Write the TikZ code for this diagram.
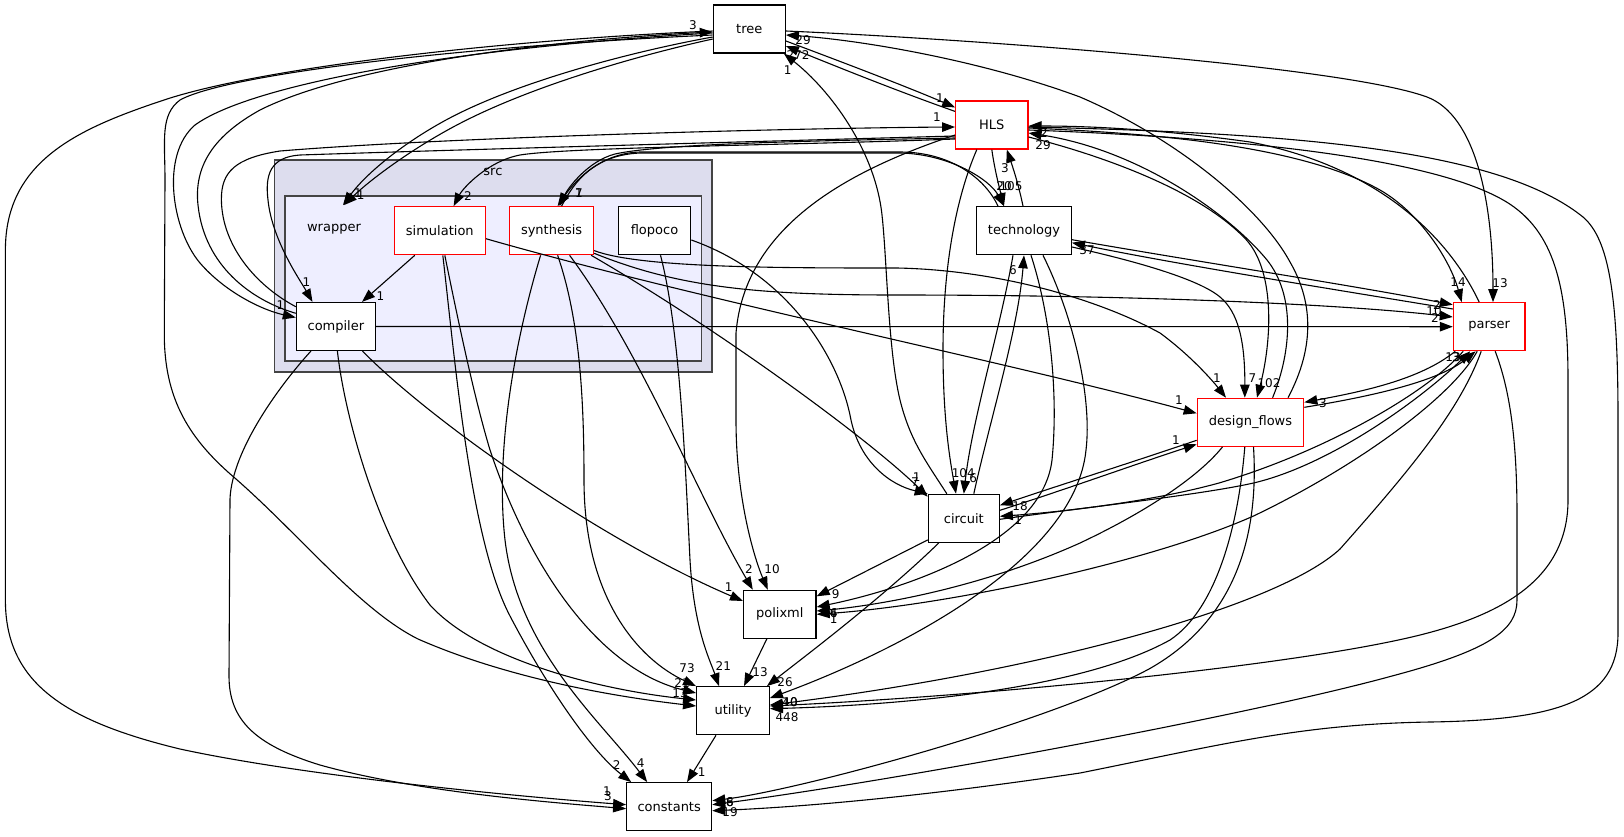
\documentclass[tikz,border=0pt]{standalone}
\usepackage{fontspec}
\setmainfont{DejaVu Sans}
\usetikzlibrary{arrows.meta}
\definecolor{cOuter}{HTML}{DDDDEE}
\definecolor{cInner}{HTML}{EEEEFF}
\definecolor{cBorder}{HTML}{444444}
\newcommand\dgNodeFont{\fontsize{13}{15}\selectfont}
\newcommand\dgLblFont{\fontsize{12}{14}\selectfont}
\begin{document}
\begin{tikzpicture}[x=1pt,y=-1pt,
 box/.style={draw=black,line width=1.2pt,fill=white,minimum height=48pt,inner sep=0pt,font=\dgNodeFont},
 redbox/.style={box,draw=red},
 e/.style={line width=1.1pt,-{Triangle[length=13pt,width=9.5pt]}},
 lbl/.style={inner sep=0pt,font=\dgLblFont},
 clu/.style={draw=cBorder,line width=1.6pt}]
\fill[white] (0,0) rectangle (1624,836);
\useasboundingbox (0,0) rectangle (1624,836);
% clusters
\draw[clu,fill=cOuter] (274.6,160) rectangle (711.8,371.7);
\draw[clu,fill=cInner] (285,196) rectangle (701.4,361);
\node[inner sep=0pt,font=\dgNodeFont] (srclbl) at (492.9,171.7) {src};
% nodes
\node[box,minimum width=72pt] (tree) at (749.3,29) {tree};
\node[redbox,minimum width=72.3pt] (HLS) at (991.8,125) {HLS};
\node[box,minimum width=94.7pt] (technology) at (1024,230.7) {technology};
\node[box,minimum width=72.5pt] (flopoco) at (654.5,230.7) {flopoco};
\node[redbox,minimum width=84pt] (synthesis) at (551.6,230.7) {synthesis};
\node[redbox,minimum width=91pt] (simulation) at (439.8,230.7) {simulation};
\node[inner sep=0pt,minimum width=60pt,minimum height=48pt,font=\dgNodeFont] (wrapper) at (334,229.3) {wrapper};
\node[box,minimum width=79pt] (compiler) at (335.9,326.5) {compiler};
\node[redbox,minimum width=71.7pt] (parser) at (1489.2,326.7) {parser};
\node[redbox,minimum width=106.5pt] (df) at (1250.5,422.3) {design\_flows};
\node[box,minimum width=71pt] (circuit) at (963.8,518.3) {circuit};
\node[box,minimum width=72.5pt] (polixml) at (779.8,614.3) {polixml};
\node[box,minimum width=72.7pt] (utility) at (733,710.7) {utility};
\node[box,minimum width=85pt] (constants) at (669.2,806.7) {constants};
% edges
\draw[e] (compiler.east) -- (parser.west);
\draw[e] ([yshift=2pt]synthesis.south east) .. controls (680,288) and (760,295) .. (897,295) .. controls (1150,295) and (1350,305) .. ([yshift=9.7pt]parser.west);
\draw[e] ([yshift=4.7pt]synthesis.south east) .. controls (640,268) and (780,268) .. (897,268) .. controls (1000,270) and (1100,300) .. (1160,333) .. controls (1190,355) and (1212,380) .. ([xshift=-24.5pt]df.north);
\draw[e] ([yshift=-9pt]technology.east) .. controls (1200,262) and (1350,285) .. ([yshift=22pt]parser.west);
\draw[e] ([yshift=17.7pt]parser.west) .. controls (1350,292) and (1180,265) .. ([yshift=-12pt]technology.east);
\draw[e] ([yshift=-16.3pt]technology.east) .. controls (1140,262) and (1200,280) .. (1220,297) .. controls (1238,312) and (1245,340) .. ([xshift=-5.7pt]df.north);
\draw[e] ([yshift=-12pt]HLS.east) .. controls (1100,155) and (1200,190) .. (1246.5,240) .. controls (1275,272) and (1272,340) .. ([xshift=6.5pt]df.north);
\draw[e] ([xshift=22.1pt]df.north) .. controls (1292,350) and (1295,295) .. (1267,260) .. controls (1230,215) and (1140,150) .. ([yshift=-8pt]HLS.east);
\draw[e] ([xshift=37.5pt]df.north) .. controls (1316,345) and (1312,300) .. (1290,262) .. controls (1262,210) and (1180,140) .. (1080,97) .. controls (980,60) and (860,40) .. ([yshift=-6pt]tree.east);
\draw[e] ([yshift=-2pt]tree.east) .. controls (950,38) and (1340,65) .. (1427,97) .. controls (1475,115) and (1493,200) .. ([xshift=3.8pt]parser.north);
\draw[e] ([yshift=-3pt]HLS.east) .. controls (1150,133) and (1300,145) .. (1380,190) .. controls (1420,213) and (1450,260) .. ([xshift=-27.5pt]parser.north);
\draw[e] ([xshift=-10pt]parser.north) .. controls (1445,230) and (1370,165) .. (1250,142) .. controls (1150,128) and (1080,126) .. ([yshift=-1pt]HLS.east);
\draw[e] ([yshift=-5pt]HLS.east) .. controls (1250,138) and (1450,160) .. (1514,207) .. controls (1555,237) and (1568,290) .. (1568,380) -- (1568,500) .. controls (1568,580) and (1500,615) .. (1420,635) .. controls (1300,665) and (1000,695) .. ([yshift=4.7pt]utility.east);
\draw[e] ([yshift=-2pt]HLS.east) .. controls (1300,133) and (1500,150) .. (1583,217) .. controls (1610,240) and (1618,300) .. (1618,420) -- (1618,633) .. controls (1618,700) and (1560,720) .. (1430,722) .. controls (1300,724) and (1220,745) .. (1080,773) .. controls (900,800) and (780,808) .. ([yshift=-4pt]constants.east);
\draw[e] ([yshift=-13pt]HLS.west) .. controls (800,141) and (660,144) .. (615,154) .. controls (588,161) and (568,188) .. ([xshift=8pt]synthesis.north);
\draw[e] ([xshift=-26pt]technology.north) .. controls (985,178) and (950,152) .. (900,152) -- (640,152) .. controls (598,153) and (572,185) .. ([xshift=6pt]synthesis.north);
\draw[e] ([xshift=10pt]synthesis.north) .. controls (575,180) and (595,155) .. (640,153) -- (900,153) .. controls (950,154) and (990,180) .. ([xshift=-20pt]technology.north);
\draw[e] (HLS.south) .. controls (995,172) and (1000,190) .. ([xshift=-20pt]technology.north);
\draw[e] ([xshift=-1pt]technology.north) .. controls (1018,182) and (1012,165) .. ([xshift=15pt]HLS.south);
\draw[e] ([xshift=-15pt]HLS.south) .. controls (955,200) and (943,270) .. (943,350) .. controls (943,420) and (950,460) .. ([xshift=-7.8pt]circuit.north);
\draw[e] ([yshift=-10pt]HLS.west) .. controls (850,170) and (745,225) .. (736,333) -- (736,420) .. controls (736,500) and (755,560) .. ([xshift=-12pt]polixml.north);
\draw[e] ([xshift=-11pt]technology.south) .. controls (1000,330) and (972,420) .. (circuit.north);
\draw[e] ([xshift=10pt]circuit.north) .. controls (990,420) and (1018,330) .. (technology.south);
\draw[e] ([xshift=-17pt]circuit.north) .. controls (925,460) and (910,440) .. (900,400) .. controls (888,350) and (887,260) .. (882,215) .. controls (875,150) and (830,90) .. ([xshift=-2pt]tree.south east);
\draw[e] ([yshift=-12pt]tree.east) .. controls (850,65) and (910,88) .. ([yshift=-7pt]HLS.north west);
\draw[e] ([yshift=-11pt]HLS.north west) .. controls (900,92) and (840,68) .. ([yshift=-17pt]tree.east);
\draw[e] ([yshift=13.2pt]compiler.west) .. controls (250,300) and (205,265) .. (198.2,206.7) .. controls (193,165) and (215,135) .. (260,110) .. controls (350,65) and (550,40) .. ([yshift=-3pt]tree.west);
\draw[e] ([yshift=-4pt]tree.west) .. controls (450,48) and (250,85) .. (195,125) .. controls (160,155) and (172,230) .. (200,263) .. controls (225,292) and (262,310) .. ([yshift=9pt]compiler.west);
\draw[e] ([yshift=-6pt]tree.west) .. controls (450,47) and (225,75) .. (180,100) .. controls (160,115) and (165,140) .. (165,180) -- (164.3,333) .. controls (164,400) and (190,440) .. (236,479) .. controls (300,535) and (360,610) .. (418,639) .. controls (500,675) and (600,695) .. ([yshift=4.7pt]utility.west);
\draw[e] ([yshift=-2pt]tree.west) .. controls (500,40) and (260,68) .. (164,100) .. controls (80,128) and (5.4,160) .. (5.4,250) -- (5.4,600) .. controls (5.4,680) and (60,720) .. (180,749) .. controls (300,775) and (500,795) .. ([yshift=2pt]constants.west);
\draw[e] ([yshift=-8pt]tree.west) .. controls (640,50) and (520,80) .. (446,120) .. controls (400,145) and (365,175) .. ([xshift=9pt]wrapper.north);
\draw[e] ([yshift=-10pt]tree.west) .. controls (640,55) and (530,86) .. (455,126) .. controls (410,150) and (370,180) .. ([xshift=10pt]wrapper.north);
\draw[e] ([yshift=19.8pt]compiler.west) .. controls (255,285) and (222,245) .. (221.4,200) .. controls (221,172) and (235,158) .. (280,151) .. controls (450,137) and (800,128) .. ([yshift=-2pt]HLS.west);
\draw[e] ([yshift=-11pt]HLS.west) .. controls (700,143) and (450,150) .. (300,155) .. controls (270,157) and (265,175) .. (268,200) .. controls (272,240) and (300,280) .. ([xshift=-23.4pt]compiler.north);
\draw[e] ([yshift=-14pt]HLS.west) .. controls (800,145) and (570,147) .. (520,155) .. controls (488,161) and (463,188) .. ([xshift=13.8pt]simulation.north);
\draw[e] ([xshift=-25pt]simulation.south) -- ([xshift=26.1pt]compiler.north);
\draw[e] ([xshift=5pt]simulation.south) .. controls (460,330) and (475,400) .. (490,450) .. controls (530,570) and (600,670) .. ([yshift=17.7pt]utility.west);
\draw[e] ([xshift=3pt]simulation.south) .. controls (455,360) and (470,540) .. (510,616) .. controls (545,683) and (590,750) .. ([xshift=-38pt]constants.north);
\draw[e] ([xshift=-11pt]synthesis.south) .. controls (515,340) and (495,450) .. (505,540) .. controls (518,650) and (600,720) .. ([xshift=-22pt]constants.north);
\draw[e] ([xshift=6pt]synthesis.south) .. controls (580,320) and (584,400) .. (584,480) .. controls (584,600) and (640,660) .. (utility.north west);
\draw[e] ([xshift=18pt]synthesis.south) .. controls (640,350) and (700,500) .. ([xshift=-27pt]polixml.north);
\draw[e] ([xshift=-3pt]synthesis.south east) .. controls (720,330) and (870,440) .. ([yshift=-3pt]circuit.north west);
\draw[e] ([yshift=-9.3pt]flopoco.east) .. controls (790,275) and (840,360) .. (851,420) .. controls (860,462) and (890,485) .. (circuit.north west);
\draw[e] ([xshift=6pt]flopoco.south) .. controls (680,330) and (685,460) .. (690,560) .. controls (694,630) and (710,660) .. ([xshift=-14pt]utility.north);
\draw[e] ([xshift=26.6pt]compiler.south) .. controls (430,420) and (600,540) .. ([yshift=13.3pt]polixml.west);
\draw[e] ([xshift=-25pt]compiler.south) .. controls (280,385) and (232,450) .. (230,499) -- (229,676) .. controls (229,720) and (255,745) .. (320,765) .. controls (420,793) and (560,803) .. ([yshift=-2pt]constants.west);
\draw[e] ([xshift=1.5pt]compiler.south) .. controls (345,420) and (380,540) .. (430,605) .. controls (480,660) and (600,690) .. ([yshift=10.7pt]utility.west);
\draw[e] ([yshift=3pt]circuit.south west) -- ([yshift=18pt]polixml.east);
\draw[e] ([xshift=-25pt]circuit.south) .. controls (880,600) and (800,660) .. ([xshift=-3pt]utility.north east);
\draw[e] ([xshift=-13pt]polixml.south) -- ([xshift=11pt]utility.north);
\draw[e] ([xshift=-17pt]utility.south) -- ([xshift=17.8pt]constants.north);
\draw[e] ([xshift=7pt]technology.south) .. controls (1052,320) and (1058,400) .. (1052,460) .. controls (1042,545) and (900,590) .. ([yshift=7.3pt]polixml.east);
\draw[e] ([xshift=19pt]technology.south) .. controls (1075,320) and (1092,400) .. (1086,450) .. controls (1075,560) and (900,650) .. ([yshift=12.7pt]utility.east);
\draw[e] ([xshift=-28pt]df.south) .. controls (1200,475) and (1150,510) .. (1080,543) .. controls (980,588) and (880,605) .. ([yshift=3.3pt]polixml.east);
\draw[e] ([xshift=-12pt]parser.south) .. controls (1450,400) and (1350,470) .. (1253.5,516) .. controls (1150,562) and (950,605) .. (polixml.east);
\draw[e] ([xshift=-8pt]parser.south) .. controls (1460,410) and (1410,470) .. (1340,549) .. controls (1280,605) and (1050,670) .. ([yshift=5.7pt]utility.east);
\draw[e] ([xshift=-5.7pt]df.south) .. controls (1238,530) and (1215,610) .. (1170,640) .. controls (1080,690) and (900,705) .. ([yshift=2pt]utility.east);
\draw[e] ([xshift=3pt]df.south) .. controls (1258,520) and (1245,615) .. (1149,669) .. controls (1050,722) and (800,790) .. ([yshift=6pt]constants.east);
\draw[e] ([xshift=6pt]parser.south) .. controls (1510,390) and (1517,440) .. (1517,516) -- (1517,600) .. controls (1517,630) and (1490,650) .. (1392,676) .. controls (1250,715) and (900,780) .. ([yshift=2pt]constants.east);
\draw[e] ([yshift=-18pt]df.west) .. controls (1130,463) and (1060,485) .. ([yshift=13pt]circuit.east);
\draw[e] ([yshift=8pt]circuit.east) .. controls (1070,488) and (1130,466) .. ([yshift=-22pt]df.west);
\draw[e] ([xshift=-26pt]parser.south) .. controls (1430,390) and (1330,450) .. (1219,483) .. controls (1150,502) and (1060,512) .. ([yshift=2pt]circuit.east);
\draw[e] ([yshift=-1pt]circuit.east) .. controls (1080,508) and (1200,495) .. (1253.5,483) .. controls (1330,465) and (1420,400) .. ([xshift=-19pt]parser.south);
\draw[e] ([xshift=-34pt]parser.south) .. controls (1420,380) and (1360,392) .. ([yshift=20pt]df.east);
\draw[e] ([yshift=15pt]df.east) .. controls (1380,395) and (1440,380) .. ([xshift=-13.6pt]parser.south);
\draw[e] ([yshift=-8pt]simulation.east) .. controls (700,300) and (1000,360) .. ([yshift=9pt]df.west);
% labels
\node[lbl] (a1) at (693,25) {3};
\node[lbl] (a2) at (803,40) {29};
\node[lbl] (a3) at (798,55) {272};
\node[lbl] (a4) at (787.7,70) {1};
\node[lbl] (b1) at (940,98) {1};
\node[lbl] (b2) at (937,117) {1};
\node[lbl] (b3) at (1044,133) {2};
\node[lbl] (b4) at (1043,145) {29};
\node[lbl] (b5) at (1005,168) {3};
\node[lbl] (c1) at (1004,186) {20};
\node[lbl] (c2) at (1011,186) {105};
\node[lbl] (c3) at (1087,250) {37};
\node[lbl] (c4) at (1013,270) {6};
\node[lbl] (d1) at (468,196) {2};
\node[lbl] (d2) at (579,193) {1};
\node[lbl] (d3) at (579,193) {7};
\node[lbl] (d4) at (360.7,195) {1};
\node[lbl] (d5) at (358,193) {1};
\node[lbl] (f1) at (280.4,305) {1};
\node[lbl] (f2) at (306.4,281.7) {1};
\node[lbl] (f3) at (380.4,296) {1};
\node[lbl] (g1) at (1458,282) {14};
\node[lbl] (g2) at (1500,283) {13};
\node[lbl] (g3) at (1437,305) {2};
\node[lbl] (g4) at (1434,311) {10};
\node[lbl] (g5) at (1435,318) {2};
\node[lbl] (g6) at (1453,357) {13};
\node[lbl] (g7) at (1456,357) {3};
\node[lbl] (h1) at (1217,378) {1};
\node[lbl] (h2) at (1252.5,378) {7};
\node[lbl] (h3) at (1269,383) {102};
\node[lbl] (h4) at (1179,400) {1};
\node[lbl] (h5) at (1176,440) {1};
\node[lbl] (h6) at (1323,403) {3};
\node[lbl] (i1) at (916.7,476.7) {1};
\node[lbl] (i2) at (915,481.7) {7};
\node[lbl] (i3) at (963.3,473.3) {104};
\node[lbl] (i4) at (973.3,478.3) {6};
\node[lbl] (i5) at (1020,506) {18};
\node[lbl] (i6) at (1018.3,520) {1};
\node[lbl] (j1) at (749,569) {2};
\node[lbl] (j2) at (772,569) {10};
\node[lbl] (j3) at (728.6,586.7) {1};
\node[lbl] (j4) at (835.7,594.3) {9};
\node[lbl] (j5) at (833.6,612.7) {6};
\node[lbl] (j6) at (833.6,612.7) {4};
\node[lbl] (j7) at (833.6,619.3) {1};
\node[lbl] (k1) at (687,668) {73};
\node[lbl] (k2) at (723.3,666) {21};
\node[lbl] (k3) at (760,672) {13};
\node[lbl] (k4) at (785,682) {26};
\node[lbl] (k5) at (682,683) {21};
\node[lbl] (k6) at (680,693) {13};
\node[lbl] (k7) at (790,702) {10};
\node[lbl] (k8) at (790,702) {40};
\node[lbl] (k9) at (787,717) {448};
\node[lbl] (m1) at (616.7,765) {2};
\node[lbl] (m2) at (640.7,763) {4};
\node[lbl] (m3) at (701.7,771.7) {1};
\node[lbl] (m4) at (607,791) {1};
\node[lbl] (m5) at (608,796) {3};
\node[lbl] (m6) at (730,801.7) {8};
\node[lbl] (m7) at (730,801.7) {6};
\node[lbl] (m8) at (730,812) {19};
\end{tikzpicture}
\end{document}
